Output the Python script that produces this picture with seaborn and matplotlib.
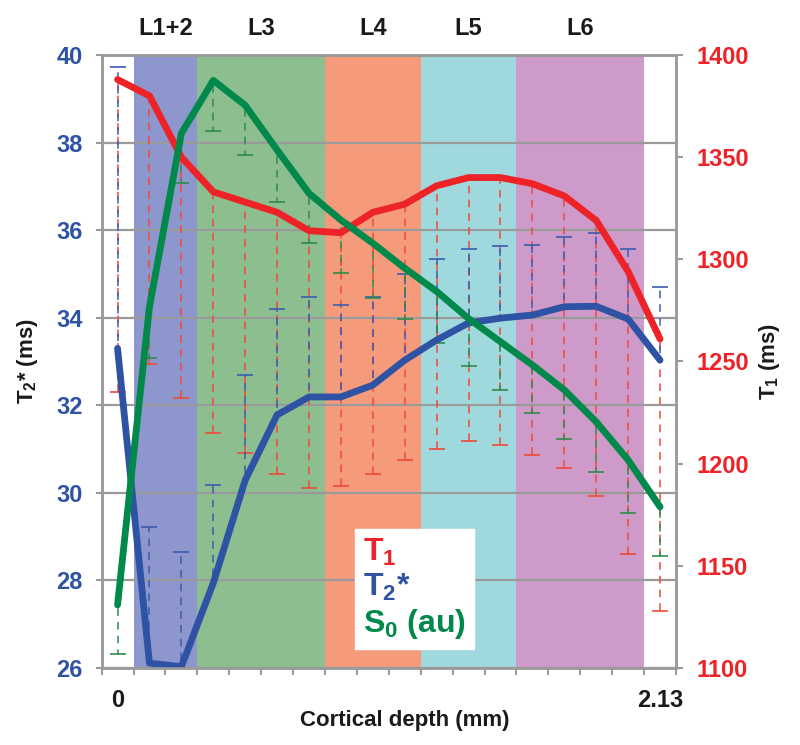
import numpy as np
import matplotlib
matplotlib.use('Agg')
import matplotlib.pyplot as plt
import seaborn as sns
from matplotlib.lines import Line2D
from matplotlib.transforms import blended_transform_factory

# values, 18 depth bins from 0 to 2.13 mm
depth_labels = ['0', '2.13']
t1 = [1388, 1380, 1350, 1333, 1328, 1323, 1314, 1313, 1323, 1327,
      1336, 1340, 1340, 1337, 1331, 1319, 1294, 1261]
t1_sd = [153, 131, 118, 118, 123, 128, 126, 124, 128, 125,
         129, 129, 131, 133, 133, 135, 138, 133]
t2s = [33.30, 26.11, 26.03, 27.94, 30.29, 31.78, 32.19, 32.19, 32.46, 33.03,
       33.49, 33.88, 33.99, 34.06, 34.25, 34.26, 33.97, 33.03]
t2s_sd = [6.42, 3.12, 2.62, 2.24, 2.40, 2.42, 2.28, 2.10, 2.01, 1.97,
          1.85, 1.69, 1.65, 1.60, 1.60, 1.68, 1.60, 1.67]
s0 = [27.44, 34.25, 38.21, 39.42, 38.85, 37.83, 36.84, 36.23, 35.70, 35.13,
      34.60, 33.98, 33.45, 32.92, 32.35, 31.62, 30.75, 29.68]
s0_sd = [1.12, 1.17, 1.14, 1.16, 1.14, 1.19, 1.13, 1.20, 1.25, 1.17,
         1.17, 1.08, 1.10, 1.10, 1.13, 1.14, 1.22, 1.12]

layers = ['L1+2', 'L3', 'L4', 'L5', 'L6']
layer_edges = [0.5, 2.5, 6.5, 9.5, 12.5, 16.5]
layer_colors = ['#8D96CD', '#8DBE90', '#F59B7C', '#9FD9DD', '#CD9AC9']

sns.set_theme(style='white')
plt.rcParams['font.family'] = ['Liberation Sans', 'DejaVu Sans']
plt.rcParams['font.weight'] = 'bold'
plt.rcParams['axes.labelweight'] = 'bold'
plt.rcParams['mathtext.default'] = 'regular'

red, blue, green = '#ED2328', '#2E52A4', '#00894A'
grey = '#9A9A9A'

fig = plt.figure(figsize=(8, 7.45), dpi=100)
ax = fig.add_axes([0.127, 0.1034, 0.718, 0.8228])
ax2 = ax.twinx()
ax.set_xlim(-0.5, 17.5)
ax.set_ylim(26, 40)
ax2.set_ylim(1100, 1400)
x = np.arange(len(t1))

# cortical layer bands
trans = blended_transform_factory(ax.transData, ax.transAxes)
for i, name in enumerate(layers):
    ax.axvspan(layer_edges[i], layer_edges[i + 1], color=layer_colors[i], lw=0, zorder=0)
    ax.text((layer_edges[i] + layer_edges[i + 1]) / 2, 1.043, name, transform=trans,
            ha='center', va='center', fontsize=17, color='#1a1a1a')

# one-sided dashed error bars (T1 and S0 minus, T2* plus)
t1_lo = np.array(t1) - np.array(t1_sd)
ax.vlines(x, t1_lo, t1, colors='#EF4A36', linewidth=1.1, linestyles=[(0, (5, 4))],
          zorder=2, transform=ax2.transData)
ax.plot(x, t1_lo, ls='none', marker='_', ms=12, mew=1.2, color='#EF4A36', zorder=2,
        transform=ax2.transData)

t2s_hi = np.array(t2s) + np.array(t2s_sd)
ax.vlines(x, t2s, t2s_hi, colors='#3A5CB0', linewidth=1.1, linestyles=[(4.5, (5, 4))], zorder=2.1)
ax.plot(x, t2s_hi, ls='none', marker='_', ms=12, mew=1.2, color='#3A5CB0', zorder=2.1)

s0_lo = np.array(s0) - np.array(s0_sd)
ax.vlines(x, s0_lo, s0, colors='#2E8B4A', linewidth=1.1, linestyles=[(2, (5, 4))], zorder=2.2)
ax.plot(x, s0_lo, ls='none', marker='_', ms=12, mew=1.2, color='#2E8B4A', zorder=2.2)

# main curves
sns.lineplot(x=x, y=t1, ax=ax, color=red, lw=4.9, zorder=3, transform=ax2.transData,
             solid_capstyle='round', solid_joinstyle='round')
sns.lineplot(x=x, y=t2s, ax=ax, color=blue, lw=4.9, zorder=3.1,
             solid_capstyle='round', solid_joinstyle='round')
sns.lineplot(x=x, y=s0, ax=ax, color=green, lw=4.9, zorder=3.2,
             solid_capstyle='round', solid_joinstyle='round')
ax.set_xlim(-0.5, 17.5)
ax.set_ylim(26, 40)

# axes styling
ax.set_xticks(np.arange(-0.5, 18, 1))
ax.set_xticklabels([])
ax.set_xticks([0, 17], minor=True)
ax.set_xticklabels(depth_labels, minor=True)
ax.tick_params(axis='x', which='major', bottom=True, direction='out', length=5, width=1.5, color=grey)
ax.tick_params(axis='x', which='minor', bottom=True, length=0, pad=15, labelsize=17, labelcolor='#1a1a1a')

ax.set_yticks(np.arange(26, 41, 2))
ax.tick_params(axis='y', left=True, direction='inout', length=9, width=1.5, color=grey,
               labelcolor=blue, labelsize=17, pad=9)
ax2.set_yticks(np.arange(1100, 1401, 50))
ax2.tick_params(axis='y', right=True, direction='out', length=5, width=1.5, color=grey,
                labelcolor=red, labelsize=17, pad=10)

ax.grid(axis='y', color=grey, lw=1.6)
ax.grid(axis='x', visible=False)
ax2.grid(False)
ax.set_axisbelow(True)
for s in list(ax.spines.values()) + list(ax2.spines.values()):
    s.set_color(grey)
    s.set_linewidth(1.8)

ax.set_xlabel('Cortical depth (mm)', fontsize=16, fontweight='bold', color='#1a1a1a')
ax.xaxis.set_label_coords(0.528, -0.068)
ax.set_ylabel('T$_2$* (ms)', fontsize=16, fontweight='bold', color='#1a1a1a')
ax.yaxis.set_label_coords(-0.107, 0.5)
ax2.set_ylabel('T$_1$ (ms)', fontsize=16, fontweight='bold', color='#1a1a1a')
ax2.yaxis.set_label_coords(1.141, 0.5)

handles = [Line2D([], [], ls='none') for _ in range(3)]
leg = ax2.legend(handles, ['T$_1$', 'T$_2$*', 'S$_0$ (au)'], labelcolor=[red, blue, green],
                 loc='upper left', bbox_to_anchor=(0.441, 0.227), borderaxespad=0,
                 handlelength=0, handletextpad=0, frameon=True, fancybox=False,
                 framealpha=1, edgecolor='white', facecolor='white',
                 prop={'size': 23, 'weight': 'bold'}, labelspacing=0.12, borderpad=0.25)
leg.set_zorder(10)

fig.savefig('out.png', dpi=100)
